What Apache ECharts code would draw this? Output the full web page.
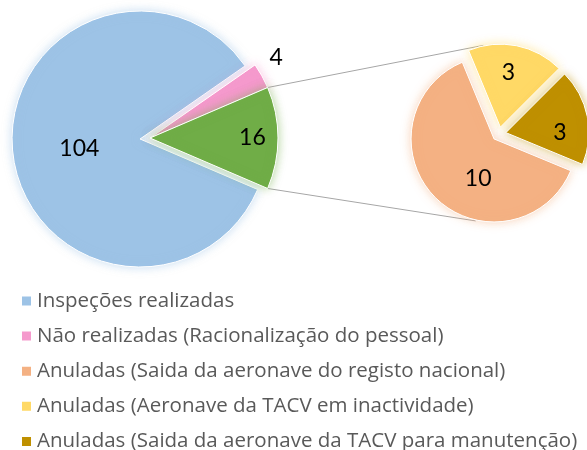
<!DOCTYPE html>
<html>
<head>
<meta charset="utf-8">
<script src="https://cdn.jsdelivr.net/npm/echarts@6/dist/echarts.min.js"></script>
<style>
html, body { margin: 0; padding: 0; background: #fff; }
#main { width: 587px; height: 450px; }
</style>
</head>
<body>
<div id="main"></div>
<script>
// dados
var mainNames = ['Inspeções realizadas', 'Não realizadas (Racionalização do pessoal)', 'Anuladas'];
var mainValues = [104, 4, 16];
var mainColors = ['#9DC3E6', '#F59ACD', '#70AD47'];

var subNames = ['Anuladas (Saida da aeronave do registo nacional)', 'Anuladas (Aeronave da TACV em inactividade)', 'Anuladas (Saida da aeronave da TACV para manutenção)'];
var subValues = [10, 3, 3];
var subColors = ['#F4B183', '#FFD966', '#BF9000'];

// layout
var mainC = [150, 138], mainR = 128;
var subC = [499, 134], subR = 83;
var mainOffsets = [10, 0, 0];
var subOffsets = [7, 7, 7];
var mainStart = -mainValues[2] / 2 / sum(mainValues) * 360;
var subStart = -22.5;
var mainLabelR = [0.48, 1.17, 0.8], mainLabelTurn = [3, 3.5, 0];
var subLabelR = [0.51, 0.67, 0.65], subLabelTurn = [23, 3, -11];

function sum(a) { var s = 0; for (var i = 0; i < a.length; i++) s += a[i]; return s; }
function rad(d) { return d * Math.PI / 180; }
function midAngle(values, start, i) {
    var tot = sum(values), cum = 0;
    for (var k = 0; k < i; k++) cum += values[k];
    return start - (cum + values[i] / 2) / tot * 360;
}
function pt(c, r, a) { return [c[0] + r * Math.cos(rad(a)), c[1] - r * Math.sin(rad(a))]; }

// uma serie por fatia, para poder "destacar" cada fatia do centro
function pieSeries(names, values, colors, offsets, c, r, start, labelR, labelTurn) {
    var out = [];
    values.forEach(function (v, i) {
        var m = midAngle(values, start, i);
        var cc = pt(c, offsets[i], m);
        var lp = pt(cc, labelR[i] * r, m + labelTurn[i]);
        var data = values.map(function (w, k) {
            if (k === i) {
                return {
                    name: names[k], value: w,
                    itemStyle: { color: colors[k], borderColor: '#fff', borderWidth: 1, shadowBlur: 10, shadowColor: echarts.color.modifyAlpha(colors[k], 0.55) }
                };
            }
            return { name: '_' + k, value: w, itemStyle: { color: 'rgba(0,0,0,0)' }, label: { show: false } };
        });
        out.push({
            type: 'pie',
            center: cc,
            radius: r,
            startAngle: start,
            clockwise: true,
            avoidLabelOverlap: false,
            silent: true,
            emphasis: { disabled: true },
            label: { show: true, position: 'inside', color: '#000', fontSize: 23, fontFamily: 'Lato', formatter: '{c}' },
            labelLine: { show: false },
            labelLayout: function () {
                return { x: lp[0], y: lp[1], align: 'center', verticalAlign: 'middle' };
            },
            data: data
        });
    });
    return out;
}

// linhas de ligação
var g1 = pt(mainC, mainR, -mainStart), g2 = pt(mainC, mainR, mainStart);
var s1 = pt(subC, subR + subOffsets[1], 100), s2 = pt(subC, subR + subOffsets[0], -105);

var myChart = echarts.init(document.getElementById('main'));
var option = {
    animation: false,
    legend: {
        orient: 'vertical',
        left: 15,
        top: 285.5,
        height: 200,
        icon: 'rect',
        itemWidth: 11,
        itemHeight: 11,
        itemGap: 14.1,
        selectedMode: false,
        textStyle: { color: '#595959', fontSize: 20.5, fontFamily: 'Open Sans', lineHeight: 20 },
        data: [mainNames[0], mainNames[1]].concat(subNames)
    },
    graphic: [
        { type: 'line', shape: { x1: g1[0], y1: g1[1], x2: s1[0], y2: s1[1] }, style: { stroke: '#A6A6A6', lineWidth: 1 }, z: -1 },
        { type: 'line', shape: { x1: g2[0], y1: g2[1], x2: s2[0], y2: s2[1] }, style: { stroke: '#A6A6A6', lineWidth: 1 }, z: -1 }
    ],
    series: pieSeries(mainNames, mainValues, mainColors, mainOffsets, mainC, mainR, mainStart, mainLabelR, mainLabelTurn)
        .concat(pieSeries(subNames, subValues, subColors, subOffsets, subC, subR, subStart, subLabelR, subLabelTurn))
};
myChart.setOption(option);
</script>
</body>
</html>
